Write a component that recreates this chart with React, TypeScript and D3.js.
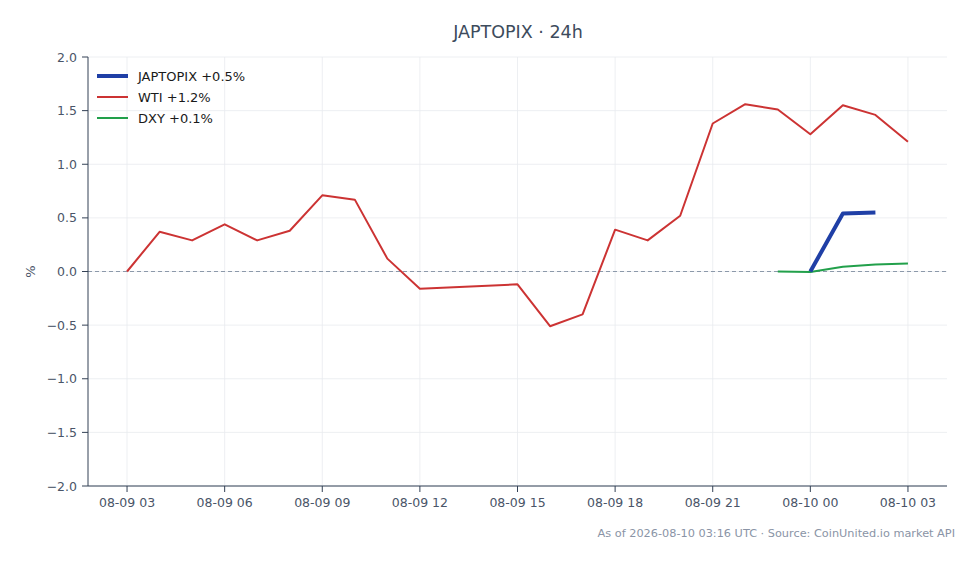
import { useEffect } from "react";
import * as d3 from "d3";

// Hourly change (%) vs. first print.
const wtiHours = [
  "2026-08-09T03:00Z", "2026-08-09T04:00Z", "2026-08-09T05:00Z", "2026-08-09T06:00Z",
  "2026-08-09T07:00Z", "2026-08-09T08:00Z", "2026-08-09T09:00Z", "2026-08-09T10:00Z",
  "2026-08-09T11:00Z", "2026-08-09T12:00Z", "2026-08-09T15:00Z", "2026-08-09T16:00Z",
  "2026-08-09T17:00Z", "2026-08-09T18:00Z", "2026-08-09T19:00Z", "2026-08-09T20:00Z",
  "2026-08-09T21:00Z", "2026-08-09T22:00Z", "2026-08-09T23:00Z", "2026-08-10T00:00Z",
  "2026-08-10T01:00Z", "2026-08-10T02:00Z", "2026-08-10T03:00Z",
];
const wtiValues = [
  0.0, 0.37, 0.29, 0.44, 0.29, 0.38, 0.71, 0.67, 0.12, -0.16, -0.12, -0.51,
  -0.4, 0.39, 0.29, 0.52, 1.38, 1.56, 1.51, 1.28, 1.55, 1.46, 1.21,
];
const japtopixHours = ["2026-08-10T00:00Z", "2026-08-10T01:00Z", "2026-08-10T02:00Z"];
const japtopixValues = [0.0, 0.54, 0.55];
const dxyHours = [
  "2026-08-09T23:00Z", "2026-08-10T00:00Z", "2026-08-10T01:00Z", "2026-08-10T02:00Z", "2026-08-10T03:00Z",
];
const dxyValues = [0.0, -0.005, 0.045, 0.065, 0.075];

const yTicks = [-2, -1.5, -1, -0.5, 0, 0.5, 1, 1.5, 2];
const xTickHours = [
  "2026-08-09T03:00Z", "2026-08-09T06:00Z", "2026-08-09T09:00Z", "2026-08-09T12:00Z",
  "2026-08-09T15:00Z", "2026-08-09T18:00Z", "2026-08-09T21:00Z", "2026-08-10T00:00Z",
  "2026-08-10T03:00Z",
];

type Pt = { t: Date; v: number };
const zip = (hours: string[], values: number[]): Pt[] => hours.map((h, i) => ({ t: new Date(h), v: values[i] }));

const series = [
  { name: "JAPTOPIX", label: "JAPTOPIX +0.5%", color: "#1f3fa6", width: 4, data: zip(japtopixHours, japtopixValues) },
  { name: "WTI", label: "WTI +1.2%", color: "#cc3333", width: 2, data: zip(wtiHours, wtiValues) },
  { name: "DXY", label: "DXY +0.1%", color: "#22a04b", width: 2, data: zip(dxyHours, dxyValues) },
];

const W = 979;
const H = 564;
const PAD = { left: 88, right: 32, top: 57, bottom: 78 };
const FONT = "DejaVu Sans, sans-serif";

export default function App() {
  useEffect(() => {
    document.body.style.margin = "0";
  }, []);

  const t0 = new Date(wtiHours[0]).getTime();
  const t1 = new Date(wtiHours[wtiHours.length - 1]).getTime();
  const margin = (t1 - t0) * 0.05;
  const x = d3
    .scaleUtc()
    .domain([new Date(t0 - margin), new Date(t1 + margin)])
    .range([PAD.left, W - PAD.right]);
  const y = d3.scaleLinear().domain([-2, 2]).range([H - PAD.bottom, PAD.top]);
  const fmt = d3.utcFormat("%m-%d %H");

  const line = d3
    .line<Pt>()
    .x((d) => x(d.t))
    .y((d) => y(d.v));

  const bottom = H - PAD.bottom;

  return (
    <svg width={W} height={H} viewBox={`0 0 ${W} ${H}`} style={{ display: "block", fontFamily: FONT }}>
      <rect width={W} height={H} fill="#ffffff" />

      <text x={518} y={38} textAnchor="middle" fontSize={17.5} fill="#3d4b5c">
        JAPTOPIX · 24h
      </text>

      {/* grid */}
      {xTickHours.map((h) => (
        <line key={`gx-${h}`} x1={x(new Date(h))} x2={x(new Date(h))} y1={PAD.top} y2={bottom} stroke="#e8ebef" strokeWidth={0.8} />
      ))}
      {yTicks.map((v) => (
        <line key={`gy-${v}`} x1={PAD.left} x2={W - PAD.right} y1={y(v)} y2={y(v)} stroke="#e8ebef" strokeWidth={0.8} />
      ))}

      {/* zero line */}
      <line x1={PAD.left} x2={W - PAD.right} y1={y(0)} y2={y(0)} stroke="#8c99aa" strokeWidth={1} strokeDasharray="4 3" />

      {/* series */}
      {[series[1], series[2], series[0]].map((s) => (
        <path key={s.name} d={line(s.data) ?? ""} fill="none" stroke={s.color} strokeWidth={s.width} strokeLinejoin="round" />
      ))}

      {/* axes */}
      <line x1={PAD.left} x2={PAD.left} y1={PAD.top} y2={bottom} stroke="#334155" strokeWidth={1} />
      <line x1={PAD.left} x2={W - PAD.right} y1={bottom} y2={bottom} stroke="#334155" strokeWidth={1} />
      {yTicks.map((v) => (
        <g key={`ty-${v}`}>
          <line x1={PAD.left - 6} x2={PAD.left} y1={y(v)} y2={y(v)} stroke="#334155" />
          <text x={PAD.left - 11} y={y(v) + 4.5} textAnchor="end" fontSize={12.5} fill="#4a5568">
            {d3.format(".1f")(v).replace("-", "\u2212")}
          </text>
        </g>
      ))}
      {xTickHours.map((h) => {
        const d = new Date(h);
        return (
          <g key={`tx-${h}`}>
            <line x1={x(d)} x2={x(d)} y1={bottom} y2={bottom + 6} stroke="#334155" />
            <text x={x(d)} y={507} textAnchor="middle" fontSize={12.5} fill="#4a5568">
              {fmt(d)}
            </text>
          </g>
        );
      })}
      <text x={35} y={y(0)} textAnchor="middle" fontSize={13} fill="#4a5568" transform={`rotate(-90, 35, ${y(0)})`}>
        %
      </text>

      {/* legend */}
      {series.map((s, i) => (
        <g key={`lg-${s.name}`} transform={`translate(97, ${76 + i * 21})`}>
          <line x1={0} x2={31} y1={0} y2={0} stroke={s.color} strokeWidth={s.width} />
          <text x={41} y={4.5} fontSize={13} fill="#1a1a1a">
            {s.label}
          </text>
        </g>
      ))}

      <text x={955} y={537} textAnchor="end" fontSize={11.3} fill="#8a94a6">
        As of 2026-08-10 03:16 UTC · Source: CoinUnited.io market API
      </text>
    </svg>
  );
}
